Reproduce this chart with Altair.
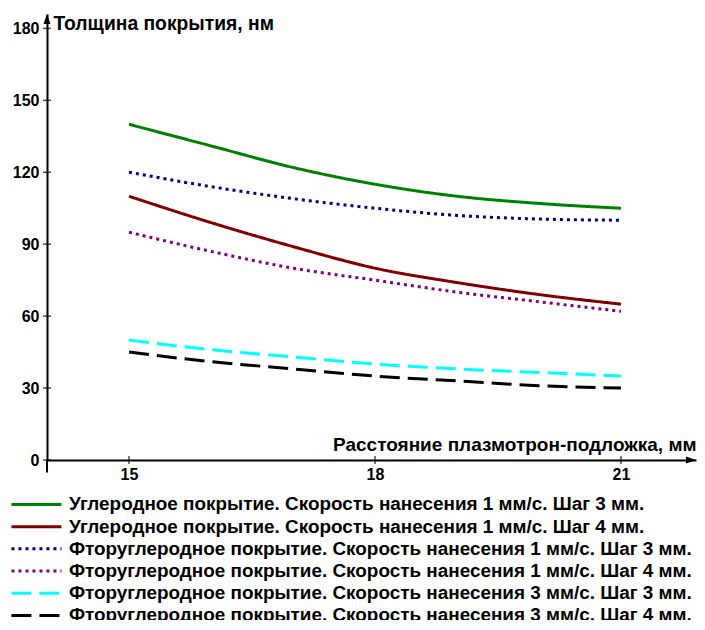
import altair as alt
import pandas as pd

# ---- data ----
x_vals = [15, 16, 17, 18, 19, 20, 21]
series_names = [
    "Углеродное покрытие. Скорость нанесения 1 мм/с. Шаг 3 мм.",
    "Углеродное покрытие. Скорость нанесения 1 мм/с. Шаг 4 мм.",
    "Фторуглеродное покрытие. Скорость нанесения 1 мм/с. Шаг 3 мм.",
    "Фторуглеродное покрытие. Скорость нанесения 1 мм/с. Шаг 4 мм.",
    "Фторуглеродное покрытие. Скорость нанесения 3 мм/с. Шаг 3 мм.",
    "Фторуглеродное покрытие. Скорость нанесения 3 мм/с. Шаг 4 мм.",
]
carbon_v1_s3 = [140, 131, 122, 115, 110, 107, 105]
carbon_v1_s4 = [110, 99, 89, 80, 74, 69, 65]
fluoro_v1_s3 = [120, 114, 109, 105, 102, 100.5, 100]
fluoro_v1_s4 = [95, 87, 80, 75, 70, 66, 62]
fluoro_v3_s3 = [50, 46, 43, 40, 38, 36.5, 35]
fluoro_v3_s4 = [45, 41, 38, 35, 33, 31, 30]
series_values = [carbon_v1_s3, carbon_v1_s4, fluoro_v1_s3,
                 fluoro_v1_s4, fluoro_v3_s3, fluoro_v3_s4]

y_ticks = [0, 30, 60, 90, 120, 150, 180]
x_ticks = [15, 18, 21]

colors = ["#008000", "#800000", "#000080", "#800080", "#00FFFF", "#000000"]
dashes = [[1, 0], [1, 0], [3, 4], [3, 4], [20, 8], [20, 8]]

FONT = "Liberation Sans"

rows = []
for name, vals in zip(series_names, series_values):
    for xv, yv in zip(x_vals, vals):
        rows.append({"x": xv, "y": yv, "series": name})
df = pd.DataFrame(rows)

XDOM = [14, 21.915]
YDOM = [0, 186]
xs = alt.Scale(domain=XDOM, nice=False, zero=False)
ys = alt.Scale(domain=YDOM, nice=False)

x_axis = alt.Axis(values=x_ticks, format="d", ticks=False, grid=False, domain=True,
                  domainColor="black", domainWidth=2, labelFont=FONT,
                  labelFontSize=16, labelFontWeight="bold", labelColor="black",
                  labelPadding=6, title="Расстояние плазмотрон-подложка, мм",
                  titleFont=FONT, titleFontSize=19, titleFontWeight="bold",
                  titleColor="black", titleAnchor="end", titleAlign="right",
                  titleX=649, titleY=-10, titleBaseline="alphabetic")
y_axis = alt.Axis(values=y_ticks, format="d", ticks=False, grid=False, domain=True,
                  domainColor="black", domainWidth=2, labelFont=FONT,
                  labelFontSize=16, labelFontWeight="bold", labelColor="black",
                  labelPadding=8, title="Толщина покрытия, нм", titleAngle=0,
                  titleFont=FONT, titleFontSize=19.3, titleFontWeight="bold",
                  titleColor="black", titleAlign="left", titleX=6, titleY=15,
                  titleBaseline="alphabetic")

legend = alt.Legend(title=None, orient="none", legendX=-20, legendY=481,
                    symbolType="M-5,0H5", symbolSize=100, symbolStrokeWidth=3,
                    labelFont=FONT, labelFontSize=18.9, labelFontWeight="bold",
                    labelColor="black", labelLimit=800, rowPadding=2.2,
                    labelOffset=23, padding=0)

lines = alt.Chart(df).mark_line(strokeWidth=3, interpolate="monotone").encode(
    x=alt.X("x:Q", scale=xs, axis=x_axis),
    y=alt.Y("y:Q", scale=ys, axis=y_axis),
    color=alt.Color("series:N", scale=alt.Scale(domain=series_names, range=colors),
                    legend=legend, sort=series_names),
    strokeDash=alt.StrokeDash("series:N",
                              scale=alt.Scale(domain=series_names, range=dashes),
                              legend=legend, sort=series_names),
)

ytick_df = pd.DataFrame({"x": [XDOM[0]] * len(y_ticks), "y": y_ticks})
xtick_df = pd.DataFrame({"x": x_ticks, "y": [0] * len(x_ticks)})

yticks = alt.Chart(ytick_df).mark_tick(orient="horizontal", size=8, thickness=1.5,
                                        color="black").encode(
    x=alt.X("x:Q", scale=xs), y=alt.Y("y:Q", scale=ys))
xticks = alt.Chart(xtick_df).mark_tick(orient="vertical", size=8, thickness=1.5,
                                        color="black").encode(
    x=alt.X("x:Q", scale=xs), y=alt.Y("y:Q", scale=ys))

ext_df = pd.DataFrame({"x": [XDOM[0]], "y": [0], "y2": [-5.2]})
yext = alt.Chart(ext_df).mark_rule(strokeWidth=2, color="black").encode(
    x=alt.X("x:Q", scale=xs), y=alt.Y("y:Q", scale=ys), y2="y2:Q")

up_df = pd.DataFrame({"x": [XDOM[0]], "y": [YDOM[1]]})
right_df = pd.DataFrame({"x": [XDOM[1]], "y": [0]})
arrow_up = alt.Chart(up_df).mark_point(
    shape="M0,0L-0.7,2L0.7,2Z", size=100, filled=True, fill="black",
    opacity=1
).encode(x=alt.X("x:Q", scale=xs), y=alt.Y("y:Q", scale=ys))
arrow_right = alt.Chart(right_df).mark_point(
    shape="M0,0L-2,-0.7L-2,0.7Z", size=100, filled=True, fill="black",
    opacity=1
).encode(x=alt.X("x:Q", scale=xs), y=alt.Y("y:Q", scale=ys))

chart = alt.layer(lines, yticks, xticks, yext, arrow_up, arrow_right).properties(
    width=649, height=446,
    autosize=alt.AutoSizeParams(type="none"),
    padding={"left": 39, "top": 6, "right": 1, "bottom": 160},
    background="white",
).configure_view(stroke="transparent", strokeWidth=0)

chart.save("out.html", embed_options={"renderer": "svg", "actions": False})
